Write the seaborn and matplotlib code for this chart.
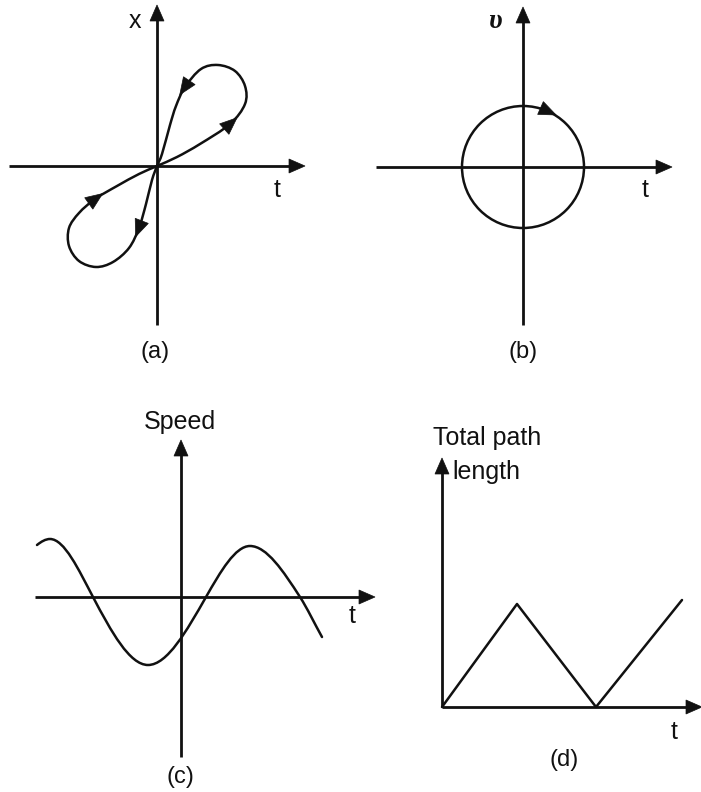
import numpy as np
import matplotlib
matplotlib.use("Agg")
import matplotlib.pyplot as plt
import seaborn as sns
from matplotlib.path import Path
from matplotlib.patches import PathPatch, Polygon, Circle

# ---------------- data ----------------
# (a) position-time figure-eight, traced from the origin: upper lobe then lower lobe
loop_x = [0, 20, 43, 73, 88, 88, 78, 61, 44, 28, 19, 13, 5,
          0, -5, -11, -18, -28, -44, -61, -78, -88, -88, -78, -62, -40, -18]
loop_y = [0, 9, 22, 42, 62, 80, 95, 101, 97, 79, 60, 41, 12,
          0, -14, -38, -62, -82, -96, -101, -95, -80, -62, -47, -33, -20, -8]
loop_arrow_idx = [3, 9, 16, 24]

# (b) velocity-time circle
circle_radius = 61
circle_arrow_deg = 66

# (c) speed-time wave: ends, crests, troughs and zero crossings, with local slopes
wave_t = [-144, -131, -88, -33, 25, 69, 119, 141]
wave_s = [52, 58, 0, -68, 0, 51, 0, -40]
wave_slope = [0.8, 0, -1.9, 0, 1.75, 0, -1.55, -1.8]

# (d) total path length vs time
path_t = [0, 75, 154, 240]
path_len = [0, 103, 0, 107]

# labels
axis_labels = {"a": ("t", "x"), "b": ("t", "υ"), "c": ("t", "Speed"),
               "d": ("t", "Total path\nlength")}
panel_tags = ["(a)", "(b)", "(c)", "(d)"]

# ---------------- style ----------------
sns.set_theme(style="white")
plt.rcParams["font.family"] = ["Liberation Sans", "DejaVu Sans"]
INK = "#111111"
W, H = 701, 792

fig = plt.figure(figsize=(W / 100, H / 100), dpi=100)
fig.patch.set_facecolor("white")


def add_panel(box, origin):
    """Axes covering a pixel box, one data unit per pixel, origin at the axis crossing."""
    x0, y0, x1, y1 = box
    ox, oy = origin
    ax = fig.add_axes([x0 / W, 1 - y1 / H, (x1 - x0) / W, (y1 - y0) / H])
    ax.set_xlim(x0 - ox, x1 - ox)
    ax.set_ylim(oy - y1, oy - y0)
    ax.set_axis_off()
    return ax


def head(ax, tip, direction, length=16, width=14, z=4):
    d = np.asarray(direction, float)
    d /= np.hypot(*d)
    n = np.array([-d[1], d[0]])
    tip = np.asarray(tip, float)
    base = tip - d * length
    tri = [tip, base + n * width / 2, base - n * width / 2]
    ax.add_patch(Polygon(tri, closed=True, facecolor=INK, edgecolor=INK,
                         lw=0.5, zorder=z))


def axis_arrow(ax, start, end, lw=2.0):
    start = np.asarray(start, float)
    end = np.asarray(end, float)
    d = end - start
    d /= np.hypot(*d)
    stop = end - d * 8
    ax.plot([start[0], stop[0]], [start[1], stop[1]], color=INK, lw=lw,
            solid_capstyle="butt", zorder=2)
    head(ax, end, d, z=3)


def smooth_loop(xs, ys):
    """Closed Catmull-Rom spline through the points, as cubic Bezier segments."""
    pts = np.column_stack([xs, ys]).astype(float)
    n = len(pts)
    ext = np.vstack([pts[-1], pts, pts[0], pts[1]])
    verts = [ext[1]]
    codes = [Path.MOVETO]
    for i in range(1, n + 1):
        p0, p1, p2, p3 = ext[i - 1], ext[i], ext[i + 1], ext[i + 2]
        verts += [p1 + (p2 - p0) / 6, p2 - (p3 - p1) / 6, p2]
        codes += [Path.CURVE4] * 3
    return Path(verts, codes)


def hermite_path(xs, ys, slopes):
    """Cubic Hermite curve through (x, y) knots with the given slopes."""
    verts = [(xs[0], ys[0])]
    codes = [Path.MOVETO]
    for i in range(len(xs) - 1):
        h = xs[i + 1] - xs[i]
        verts += [(xs[i] + h / 3, ys[i] + slopes[i] * h / 3),
                  (xs[i + 1] - h / 3, ys[i + 1] - slopes[i + 1] * h / 3),
                  (xs[i + 1], ys[i + 1])]
        codes += [Path.CURVE4] * 3
    return Path(verts, codes)


def curve_head(ax, xs, ys, i, length=17, width=14):
    n = len(xs)
    prev = np.array([xs[(i - 1) % n], ys[(i - 1) % n]], float)
    nxt = np.array([xs[(i + 1) % n], ys[(i + 1) % n]], float)
    d = nxt - prev
    d /= np.hypot(*d)
    p = np.array([xs[i], ys[i]], float)
    head(ax, p + d * length * 0.55, d, length=length, width=width, z=5)


txt = dict(color=INK, ha="center", va="center", fontsize=18)

# ---------------- (a) ----------------
ax_a = add_panel((0, 0, 345, 380), (157, 166))
axis_arrow(ax_a, (-148, 0), (148, 0))
axis_arrow(ax_a, (0, -159), (0, 161))
ax_a.add_patch(PathPatch(smooth_loop(loop_x, loop_y), facecolor="none",
                         edgecolor=INK, lw=1.8, zorder=4))
for i in loop_arrow_idx:
    curve_head(ax_a, loop_x, loop_y, i)
ax_a.text(120, -24, axis_labels["a"][0], **txt)
ax_a.text(-22, 145, axis_labels["a"][1], **txt)
ax_a.text(-2, -186, panel_tags[0], **{**txt, "fontsize": 17})

# ---------------- (b) ----------------
ax_b = add_panel((345, 0, 701, 380), (523, 167))
axis_arrow(ax_b, (-147, 0), (149, 0))
axis_arrow(ax_b, (0, -158), (0, 160))
ax_b.add_patch(Circle((0, 0), circle_radius, facecolor="none", edgecolor=INK,
                      lw=1.8, zorder=4))
th = np.deg2rad(circle_arrow_deg)
pos = circle_radius * np.array([np.cos(th), np.sin(th)])
tang = np.array([np.sin(th), -np.cos(th)])
head(ax_b, pos + tang * 9, tang, length=17, width=14, z=5)
ax_b.text(122, -23, axis_labels["b"][0], **txt)
ax_b.text(-28, 146, axis_labels["b"][1], color=INK, ha="center", va="center",
          fontsize=20, fontstyle="italic", fontweight="bold",
          family=["Liberation Serif", "DejaVu Serif"])
ax_b.text(0, -185, panel_tags[1], **{**txt, "fontsize": 17})

# ---------------- (c) ----------------
ax_c = add_panel((0, 400, 400, 792), (181, 597))
axis_arrow(ax_c, (-146, 0), (194, 0))
axis_arrow(ax_c, (0, -160), (0, 157))
ax_c.add_patch(PathPatch(hermite_path(wave_t, wave_s, wave_slope),
                         facecolor="none", edgecolor=INK, lw=1.8, zorder=4,
                         capstyle="round"))
ax_c.text(171, -19, axis_labels["c"][0], **txt)
ax_c.text(-1, 175, axis_labels["c"][1], **txt)
ax_c.text(-1, -180, panel_tags[2], **{**txt, "fontsize": 17})

# ---------------- (d) ----------------
ax_d = add_panel((400, 400, 701, 792), (442, 707))
axis_arrow(ax_d, (0, 0), (260, 0))
axis_arrow(ax_d, (0, 0), (0, 249))
sns.lineplot(x=path_t, y=path_len, sort=False, estimator=None, color=INK,
             lw=1.8, ax=ax_d, zorder=4)
ax_d.set_axis_off()
ax_d.set_xlim(400 - 442, 701 - 442)
ax_d.set_ylim(707 - 792, 707 - 400)
tl = axis_labels["d"][1].split("\n")
ax_d.text(-9, 269, tl[0], color=INK, ha="left", va="center", fontsize=18)
ax_d.text(10, 235, tl[1], color=INK, ha="left", va="center", fontsize=18)
ax_d.text(232, -25, axis_labels["d"][0], **txt)
ax_d.text(122, -53, panel_tags[3], **{**txt, "fontsize": 17})

fig.savefig("out.png", dpi=100, facecolor="white")
